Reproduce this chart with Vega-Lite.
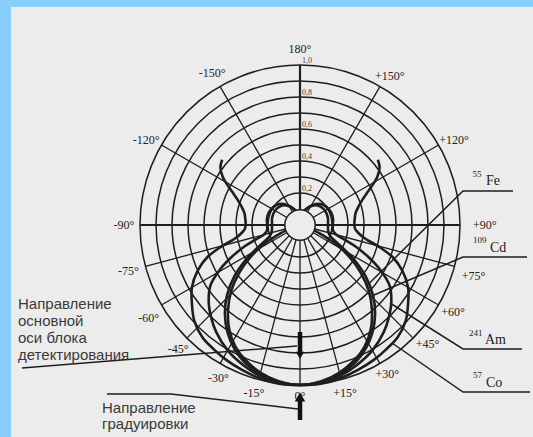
{
  "$schema": "https://vega.github.io/schema/vega-lite/v6.json",
  "width": 522,
  "height": 430,
  "autosize": {"type": "none"},
  "padding": {"left": 11, "top": 7, "right": 0, "bottom": 0},
  "background": "#87CEFA",
  "config": {"view": {"stroke": null, "fill": "#ececec"}},
  "datasets": {
    "rings": [{"r": 0.2}, {"r": 0.3}, {"r": 0.4}, {"r": 0.5}, {"r": 0.6}, {"r": 0.7}, {"r": 0.8}, {"r": 0.9}, {"r": 1.0}],
    "hub": [{"r": 0.095}],
    "spokes": [{"a": 0}, {"a": 15}, {"a": -15}, {"a": 30}, {"a": -30}, {"a": 45}, {"a": -45}, {"a": 60}, {"a": -60}, {"a": 75}, {"a": -75}, {"a": 120}, {"a": -120}, {"a": 150}, {"a": -150}],
    "axes": [{"a": 90}, {"a": -90}, {"a": 180}],
    "curves": [
      {"s": "Co", "a": -130, "r": 0.635}, {"s": "Co", "a": -126, "r": 0.615}, {"s": "Co", "a": -122, "r": 0.57}, {"s": "Co", "a": -119, "r": 0.52}, {"s": "Co", "a": -116, "r": 0.47}, {"s": "Co", "a": -112, "r": 0.42}, {"s": "Co", "a": -107, "r": 0.38}, {"s": "Co", "a": -102, "r": 0.355}, {"s": "Co", "a": -97, "r": 0.345}, {"s": "Co", "a": -92, "r": 0.34}, {"s": "Co", "a": -86, "r": 0.345}, {"s": "Co", "a": -82, "r": 0.37}, {"s": "Co", "a": -78, "r": 0.42}, {"s": "Co", "a": -75, "r": 0.5}, {"s": "Co", "a": -71, "r": 0.61}, {"s": "Co", "a": -66, "r": 0.7}, {"s": "Co", "a": -60, "r": 0.78}, {"s": "Co", "a": -54, "r": 0.835}, {"s": "Co", "a": -48, "r": 0.89}, {"s": "Co", "a": -41, "r": 0.93}, {"s": "Co", "a": -35, "r": 0.945}, {"s": "Co", "a": -29, "r": 0.96}, {"s": "Co", "a": -22, "r": 0.975}, {"s": "Co", "a": -15, "r": 0.99}, {"s": "Co", "a": -8, "r": 1.0}, {"s": "Co", "a": 0, "r": 1.0},
      {"s": "Co", "a": 8, "r": 1.0}, {"s": "Co", "a": 15, "r": 0.99}, {"s": "Co", "a": 22, "r": 0.975}, {"s": "Co", "a": 29, "r": 0.96}, {"s": "Co", "a": 35, "r": 0.945}, {"s": "Co", "a": 41, "r": 0.93}, {"s": "Co", "a": 48, "r": 0.89}, {"s": "Co", "a": 54, "r": 0.835}, {"s": "Co", "a": 60, "r": 0.78}, {"s": "Co", "a": 66, "r": 0.7}, {"s": "Co", "a": 71, "r": 0.61}, {"s": "Co", "a": 75, "r": 0.5}, {"s": "Co", "a": 78, "r": 0.42}, {"s": "Co", "a": 82, "r": 0.37}, {"s": "Co", "a": 86, "r": 0.345}, {"s": "Co", "a": 92, "r": 0.34}, {"s": "Co", "a": 97, "r": 0.345}, {"s": "Co", "a": 102, "r": 0.355}, {"s": "Co", "a": 107, "r": 0.38}, {"s": "Co", "a": 112, "r": 0.42}, {"s": "Co", "a": 116, "r": 0.47}, {"s": "Co", "a": 119, "r": 0.52}, {"s": "Co", "a": 122, "r": 0.57}, {"s": "Co", "a": 126, "r": 0.615}, {"s": "Co", "a": 130, "r": 0.635},
      {"s": "Am", "a": -162, "r": 0.09}, {"s": "Am", "a": -157, "r": 0.11}, {"s": "Am", "a": -150, "r": 0.14}, {"s": "Am", "a": -143, "r": 0.165}, {"s": "Am", "a": -135, "r": 0.185}, {"s": "Am", "a": -125, "r": 0.2}, {"s": "Am", "a": -112, "r": 0.21}, {"s": "Am", "a": -100, "r": 0.21}, {"s": "Am", "a": -90, "r": 0.205}, {"s": "Am", "a": -80, "r": 0.21}, {"s": "Am", "a": -75, "r": 0.235}, {"s": "Am", "a": -72, "r": 0.29}, {"s": "Am", "a": -69, "r": 0.37}, {"s": "Am", "a": -65, "r": 0.47}, {"s": "Am", "a": -61, "r": 0.57}, {"s": "Am", "a": -56, "r": 0.675}, {"s": "Am", "a": -50, "r": 0.745}, {"s": "Am", "a": -44, "r": 0.8}, {"s": "Am", "a": -38, "r": 0.85}, {"s": "Am", "a": -30, "r": 0.905}, {"s": "Am", "a": -22, "r": 0.945}, {"s": "Am", "a": -15, "r": 0.975}, {"s": "Am", "a": -8, "r": 0.995}, {"s": "Am", "a": 0, "r": 1.0},
      {"s": "Am", "a": 8, "r": 0.995}, {"s": "Am", "a": 15, "r": 0.975}, {"s": "Am", "a": 22, "r": 0.945}, {"s": "Am", "a": 30, "r": 0.905}, {"s": "Am", "a": 38, "r": 0.85}, {"s": "Am", "a": 44, "r": 0.8}, {"s": "Am", "a": 50, "r": 0.745}, {"s": "Am", "a": 56, "r": 0.675}, {"s": "Am", "a": 61, "r": 0.57}, {"s": "Am", "a": 65, "r": 0.47}, {"s": "Am", "a": 69, "r": 0.37}, {"s": "Am", "a": 72, "r": 0.29}, {"s": "Am", "a": 75, "r": 0.235}, {"s": "Am", "a": 80, "r": 0.21}, {"s": "Am", "a": 90, "r": 0.205}, {"s": "Am", "a": 100, "r": 0.21}, {"s": "Am", "a": 112, "r": 0.21}, {"s": "Am", "a": 125, "r": 0.2}, {"s": "Am", "a": 135, "r": 0.185}, {"s": "Am", "a": 143, "r": 0.165}, {"s": "Am", "a": 150, "r": 0.14}, {"s": "Am", "a": 157, "r": 0.11}, {"s": "Am", "a": 162, "r": 0.09},
      {"s": "Cd", "a": -165, "r": 0.09}, {"s": "Cd", "a": -158, "r": 0.11}, {"s": "Cd", "a": -150, "r": 0.135}, {"s": "Cd", "a": -142, "r": 0.158}, {"s": "Cd", "a": -132, "r": 0.172}, {"s": "Cd", "a": -120, "r": 0.18}, {"s": "Cd", "a": -105, "r": 0.18}, {"s": "Cd", "a": -90, "r": 0.175}, {"s": "Cd", "a": -78, "r": 0.18}, {"s": "Cd", "a": -70, "r": 0.2}, {"s": "Cd", "a": -65, "r": 0.25}, {"s": "Cd", "a": -61, "r": 0.32}, {"s": "Cd", "a": -57, "r": 0.41}, {"s": "Cd", "a": -52, "r": 0.52}, {"s": "Cd", "a": -46, "r": 0.635}, {"s": "Cd", "a": -40, "r": 0.73}, {"s": "Cd", "a": -34, "r": 0.81}, {"s": "Cd", "a": -28, "r": 0.875}, {"s": "Cd", "a": -22, "r": 0.925}, {"s": "Cd", "a": -15, "r": 0.965}, {"s": "Cd", "a": -8, "r": 0.99}, {"s": "Cd", "a": 0, "r": 1.0},
      {"s": "Cd", "a": 8, "r": 0.99}, {"s": "Cd", "a": 15, "r": 0.965}, {"s": "Cd", "a": 22, "r": 0.925}, {"s": "Cd", "a": 28, "r": 0.875}, {"s": "Cd", "a": 34, "r": 0.81}, {"s": "Cd", "a": 40, "r": 0.73}, {"s": "Cd", "a": 46, "r": 0.635}, {"s": "Cd", "a": 52, "r": 0.52}, {"s": "Cd", "a": 57, "r": 0.41}, {"s": "Cd", "a": 61, "r": 0.32}, {"s": "Cd", "a": 65, "r": 0.25}, {"s": "Cd", "a": 70, "r": 0.2}, {"s": "Cd", "a": 78, "r": 0.18}, {"s": "Cd", "a": 90, "r": 0.175}, {"s": "Cd", "a": 105, "r": 0.18}, {"s": "Cd", "a": 120, "r": 0.18}, {"s": "Cd", "a": 132, "r": 0.172}, {"s": "Cd", "a": 142, "r": 0.158}, {"s": "Cd", "a": 150, "r": 0.135}, {"s": "Cd", "a": 158, "r": 0.11}, {"s": "Cd", "a": 165, "r": 0.09},
      {"s": "Fe", "a": -69, "r": 0.09}, {"s": "Fe", "a": -67, "r": 0.13}, {"s": "Fe", "a": -64, "r": 0.2}, {"s": "Fe", "a": -61, "r": 0.28}, {"s": "Fe", "a": -57, "r": 0.37}, {"s": "Fe", "a": -52, "r": 0.48}, {"s": "Fe", "a": -46, "r": 0.6}, {"s": "Fe", "a": -40, "r": 0.7}, {"s": "Fe", "a": -34, "r": 0.79}, {"s": "Fe", "a": -28, "r": 0.86}, {"s": "Fe", "a": -22, "r": 0.91}, {"s": "Fe", "a": -15, "r": 0.955}, {"s": "Fe", "a": -8, "r": 0.985}, {"s": "Fe", "a": 0, "r": 1.0},
      {"s": "Fe", "a": 8, "r": 0.985}, {"s": "Fe", "a": 15, "r": 0.955}, {"s": "Fe", "a": 22, "r": 0.91}, {"s": "Fe", "a": 28, "r": 0.86}, {"s": "Fe", "a": 34, "r": 0.79}, {"s": "Fe", "a": 40, "r": 0.7}, {"s": "Fe", "a": 46, "r": 0.6}, {"s": "Fe", "a": 52, "r": 0.48}, {"s": "Fe", "a": 57, "r": 0.37}, {"s": "Fe", "a": 61, "r": 0.28}, {"s": "Fe", "a": 64, "r": 0.2}, {"s": "Fe", "a": 67, "r": 0.13}, {"s": "Fe", "a": 69, "r": 0.09}
    ],
    "pointers": [
      {"g": "Fe", "i": 1, "x": 1.33125, "y": 0.2125}, {"g": "Fe", "i": 2, "x": 1.01875, "y": 0.2125}, {"g": "Fe", "i": 3, "x": 0.41875, "y": -0.378},
      {"g": "Cd", "i": 1, "x": 1.41875, "y": -0.2}, {"g": "Cd", "i": 2, "x": 1.01875, "y": -0.2}, {"g": "Cd", "i": 3, "x": 0.4625, "y": -0.4375},
      {"g": "Am", "i": 1, "x": 1.3875, "y": -0.775}, {"g": "Am", "i": 2, "x": 1.01875, "y": -0.775}, {"g": "Am", "i": 3, "x": 0.5625, "y": -0.4875},
      {"g": "Co", "i": 1, "x": 1.4375, "y": -1.04375}, {"g": "Co", "i": 2, "x": 1.01875, "y": -1.04375}, {"g": "Co", "i": 3, "x": 0.575, "y": -0.7375},
      {"g": "axis", "i": 1, "x": -1.7375, "y": -0.89375}, {"g": "axis", "i": 2, "x": -0.01875, "y": -0.75625},
      {"g": "grad", "i": 1, "x": -1.20625, "y": -1.05625}, {"g": "grad", "i": 2, "x": -0.80625, "y": -1.05625}, {"g": "grad", "i": 3, "x": -0.0125, "y": -1.15}
    ],
    "deg": [
      {"t": "180°", "a": 180, "r": 1.1}, {"t": "-150°", "a": -150, "r": 1.098}, {"t": "+150°", "a": 149, "r": 1.09},
      {"t": "-120°", "a": -119, "r": 1.1}, {"t": "+120°", "a": 119, "r": 1.1}, {"t": "-90°", "a": -90, "r": 1.1},
      {"t": "+90°", "a": 90, "r": 1.155}, {"t": "-75°", "a": -75, "r": 1.11}, {"t": "+75°", "a": 73.6, "r": 1.13},
      {"t": "-60°", "a": -58.5, "r": 1.11}, {"t": "+60°", "a": 60.4, "r": 1.1}, {"t": "-45°", "a": -44.5, "r": 1.087},
      {"t": "+45°", "a": 47, "r": 1.09}, {"t": "-30°", "a": -28, "r": 1.085}, {"t": "+30°", "a": 30.3, "r": 1.08},
      {"t": "-15°", "a": -15.3, "r": 1.09}, {"t": "+15°", "a": 15, "r": 1.087}, {"t": "0°", "a": 0, "r": 1.07}
    ],
    "ringlab": [{"t": "1,0", "r": 1.0}, {"t": "0,8", "r": 0.8}, {"t": "0,6", "r": 0.6}, {"t": "0,4", "r": 0.4}, {"t": "0,2", "r": 0.2}],
    "srcbig": [{"t": "Fe", "x": 1.1625, "y": 0.25}, {"t": "Cd", "x": 1.1875, "y": -0.16875}, {"t": "Am", "x": 1.15625, "y": -0.74375}, {"t": "Co", "x": 1.1625, "y": -1.0125}],
    "srcsup": [{"t": "55", "x": 1.078, "y": 0.3}, {"t": "109", "x": 1.08125, "y": -0.1125}, {"t": "241", "x": 1.05625, "y": -0.69375}, {"t": "57", "x": 1.08125, "y": -0.95625}],
    "notes": [
      {"t": "Направление", "x": -1.7625, "y": -0.49375}, {"t": "основной", "x": -1.7625, "y": -0.6}, {"t": "оси блока", "x": -1.7625, "y": -0.70625}, {"t": "детектирования", "x": -1.7625, "y": -0.8125},
      {"t": "Направление", "x": -1.2375, "y": -1.14375}, {"t": "градуировки", "x": -1.2375, "y": -1.24375}
    ],
    "shafts": [{"x": 0, "y": -0.66875, "y2": -0.79375}, {"x": 0, "y": -1.1, "y2": -1.21875}],
    "headdown": [{"x": 0, "y": -0.815}],
    "headup": [{"x": 0, "y": -1.075}]
  },
  "layer": [
    {
      "data": {"name": "rings"},
      "transform": [{"calculate": "0", "as": "cx"}],
      "mark": {"type": "arc", "theta": 0, "theta2": 6.2832, "fillOpacity": 0, "stroke": "#1e1e1e", "strokeWidth": 1.5},
      "encoding": {
        "x": {"field": "cx", "type": "quantitative", "scale": {"domain": [-1.80625, 1.45625], "nice": false, "zero": false}, "axis": null},
        "y": {"field": "cx", "type": "quantitative", "scale": {"domain": [-1.325, 1.3625], "nice": false, "zero": false}, "axis": null},
        "radius": {"field": "r", "type": "quantitative", "stack": null, "scale": {"type": "linear", "domain": [0, 1], "range": [0, 160], "zero": true}, "legend": null}
      }
    },
    {
      "data": {"name": "spokes"},
      "transform": [{"calculate": "0", "as": "x"}, {"calculate": "0", "as": "y"}, {"calculate": "sin(datum.a*PI/180)", "as": "x2"}, {"calculate": "-cos(datum.a*PI/180)", "as": "y2"}],
      "mark": {"type": "rule", "stroke": "#1e1e1e", "strokeWidth": 1.3},
      "encoding": {
        "x": {"field": "x", "type": "quantitative", "scale": {"domain": [-1.80625, 1.45625], "nice": false, "zero": false}, "axis": null},
        "y": {"field": "y", "type": "quantitative", "scale": {"domain": [-1.325, 1.3625], "nice": false, "zero": false}, "axis": null},
        "x2": {"field": "x2"},
        "y2": {"field": "y2"}
      }
    },
    {
      "data": {"name": "axes"},
      "transform": [{"calculate": "0", "as": "x"}, {"calculate": "0", "as": "y"}, {"calculate": "sin(datum.a*PI/180)", "as": "x2"}, {"calculate": "-cos(datum.a*PI/180)", "as": "y2"}],
      "mark": {"type": "rule", "stroke": "#1e1e1e", "strokeWidth": 2.2},
      "encoding": {
        "x": {"field": "x", "type": "quantitative", "scale": {"domain": [-1.80625, 1.45625], "nice": false, "zero": false}, "axis": null},
        "y": {"field": "y", "type": "quantitative", "scale": {"domain": [-1.325, 1.3625], "nice": false, "zero": false}, "axis": null},
        "x2": {"field": "x2"},
        "y2": {"field": "y2"}
      }
    },
    {
      "data": {"name": "curves"},
      "transform": [{"calculate": "datum.r*sin(datum.a*PI/180)", "as": "x"}, {"calculate": "-datum.r*cos(datum.a*PI/180)", "as": "y"}],
      "mark": {"type": "line", "stroke": "#1e1e1e", "strokeWidth": 2.6, "interpolate": "catmull-rom"},
      "encoding": {
        "x": {"field": "x", "type": "quantitative", "scale": {"domain": [-1.80625, 1.45625], "nice": false, "zero": false}, "axis": null},
        "y": {"field": "y", "type": "quantitative", "scale": {"domain": [-1.325, 1.3625], "nice": false, "zero": false}, "axis": null},
        "detail": {"field": "s", "type": "nominal"},
        "order": {"field": "a", "type": "quantitative"}
      }
    },
    {
      "data": {"name": "hub"},
      "transform": [{"calculate": "0", "as": "cx"}],
      "mark": {"type": "arc", "theta": 0, "theta2": 6.2832, "fill": "#ececec", "stroke": "#1e1e1e", "strokeWidth": 1.5},
      "encoding": {
        "x": {"field": "cx", "type": "quantitative", "scale": {"domain": [-1.80625, 1.45625], "nice": false, "zero": false}, "axis": null},
        "y": {"field": "cx", "type": "quantitative", "scale": {"domain": [-1.325, 1.3625], "nice": false, "zero": false}, "axis": null},
        "radius": {"field": "r", "type": "quantitative", "stack": null, "scale": {"type": "linear", "domain": [0, 1], "range": [0, 160], "zero": true}, "legend": null}
      }
    },
    {
      "data": {"name": "pointers"},
      "mark": {"type": "line", "stroke": "#1e1e1e", "strokeWidth": 1.5},
      "encoding": {
        "x": {"field": "x", "type": "quantitative", "scale": {"domain": [-1.80625, 1.45625], "nice": false, "zero": false}, "axis": null},
        "y": {"field": "y", "type": "quantitative", "scale": {"domain": [-1.325, 1.3625], "nice": false, "zero": false}, "axis": null},
        "detail": {"field": "g", "type": "nominal"},
        "order": {"field": "i", "type": "quantitative"}
      }
    },
    {
      "data": {"name": "deg"},
      "transform": [{"calculate": "datum.r*sin(datum.a*PI/180)", "as": "x"}, {"calculate": "-datum.r*cos(datum.a*PI/180)", "as": "y"}],
      "mark": {"type": "text", "font": "Liberation Serif", "fontSize": 12, "fill": "#222222", "align": "center", "baseline": "middle"},
      "encoding": {
        "x": {"field": "x", "type": "quantitative", "scale": {"domain": [-1.80625, 1.45625], "nice": false, "zero": false}, "axis": null},
        "y": {"field": "y", "type": "quantitative", "scale": {"domain": [-1.325, 1.3625], "nice": false, "zero": false}, "axis": null},
        "text": {"field": "t", "type": "nominal"}
      }
    },
    {
      "data": {"name": "ringlab"},
      "transform": [{"calculate": "0", "as": "x"}],
      "mark": {"type": "text", "font": "Liberation Serif", "fontSize": 8, "fill": "#3c3c3c", "align": "left", "baseline": "alphabetic", "dx": 2, "dy": -2},
      "encoding": {
        "x": {"field": "x", "type": "quantitative", "scale": {"domain": [-1.80625, 1.45625], "nice": false, "zero": false}, "axis": null},
        "y": {"field": "r", "type": "quantitative", "scale": {"domain": [-1.325, 1.3625], "nice": false, "zero": false}, "axis": null},
        "text": {"field": "t", "type": "nominal"}
      }
    },
    {
      "data": {"name": "srcbig"},
      "mark": {"type": "text", "font": "Liberation Serif", "fontSize": 14, "fill": "#222222", "align": "left", "baseline": "alphabetic"},
      "encoding": {
        "x": {"field": "x", "type": "quantitative", "scale": {"domain": [-1.80625, 1.45625], "nice": false, "zero": false}, "axis": null},
        "y": {"field": "y", "type": "quantitative", "scale": {"domain": [-1.325, 1.3625], "nice": false, "zero": false}, "axis": null},
        "text": {"field": "t", "type": "nominal"}
      }
    },
    {
      "data": {"name": "srcsup"},
      "mark": {"type": "text", "font": "Liberation Serif", "fontSize": 9, "fill": "#222222", "align": "left", "baseline": "alphabetic"},
      "encoding": {
        "x": {"field": "x", "type": "quantitative", "scale": {"domain": [-1.80625, 1.45625], "nice": false, "zero": false}, "axis": null},
        "y": {"field": "y", "type": "quantitative", "scale": {"domain": [-1.325, 1.3625], "nice": false, "zero": false}, "axis": null},
        "text": {"field": "t", "type": "nominal"}
      }
    },
    {
      "data": {"name": "notes"},
      "mark": {"type": "text", "font": "Liberation Sans", "fontSize": 15, "fill": "#3a3a3a", "align": "left", "baseline": "middle"},
      "encoding": {
        "x": {"field": "x", "type": "quantitative", "scale": {"domain": [-1.80625, 1.45625], "nice": false, "zero": false}, "axis": null},
        "y": {"field": "y", "type": "quantitative", "scale": {"domain": [-1.325, 1.3625], "nice": false, "zero": false}, "axis": null},
        "text": {"field": "t", "type": "nominal"}
      }
    },
    {
      "data": {"name": "shafts"},
      "mark": {"type": "rule", "stroke": "#111111", "strokeWidth": 4.5},
      "encoding": {
        "x": {"field": "x", "type": "quantitative", "scale": {"domain": [-1.80625, 1.45625], "nice": false, "zero": false}, "axis": null},
        "y": {"field": "y", "type": "quantitative", "scale": {"domain": [-1.325, 1.3625], "nice": false, "zero": false}, "axis": null},
        "y2": {"field": "y2"}
      }
    },
    {
      "data": {"name": "headdown"},
      "mark": {"type": "point", "shape": "triangle-down", "filled": true, "fill": "#111111", "opacity": 1, "size": 70},
      "encoding": {
        "x": {"field": "x", "type": "quantitative", "scale": {"domain": [-1.80625, 1.45625], "nice": false, "zero": false}, "axis": null},
        "y": {"field": "y", "type": "quantitative", "scale": {"domain": [-1.325, 1.3625], "nice": false, "zero": false}, "axis": null}
      }
    },
    {
      "data": {"name": "headup"},
      "mark": {"type": "point", "shape": "triangle-up", "filled": true, "fill": "#111111", "opacity": 1, "size": 110},
      "encoding": {
        "x": {"field": "x", "type": "quantitative", "scale": {"domain": [-1.80625, 1.45625], "nice": false, "zero": false}, "axis": null},
        "y": {"field": "y", "type": "quantitative", "scale": {"domain": [-1.325, 1.3625], "nice": false, "zero": false}, "axis": null}
      }
    }
  ]
}
